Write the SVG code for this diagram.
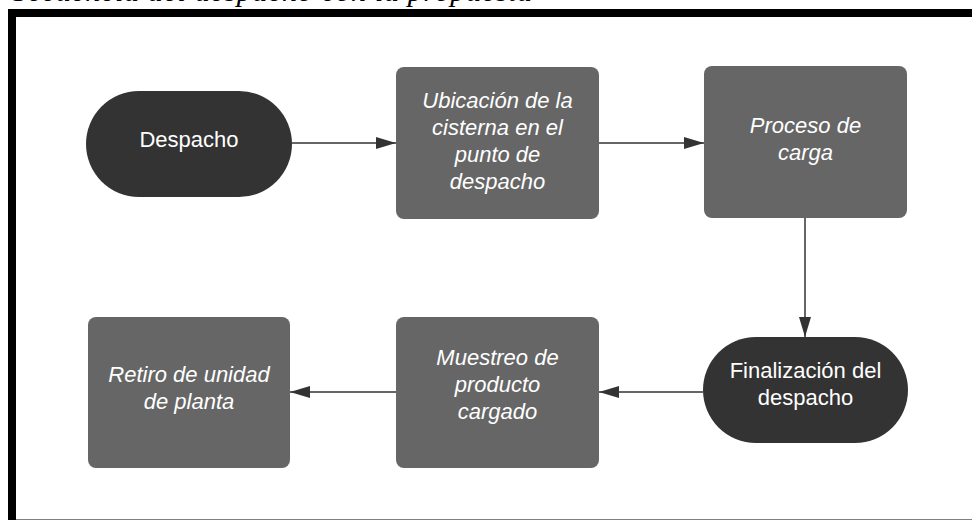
<svg xmlns="http://www.w3.org/2000/svg" width="972" height="520" viewBox="0 0 972 520">
  <style>
    .term { fill: #333333; }
    .proc { fill: #666666; }
    .lbl { font-family: "Liberation Sans", Arial, sans-serif; font-size: 22px; fill: #ffffff; text-anchor: middle; }
    .it { font-style: italic; }
    .conn { stroke: #333333; stroke-width: 1.5; fill: none; marker-end: url(#arrow); }
    .title { font-family: "Liberation Serif", "Times New Roman", serif; font-size: 30px; font-style: italic; fill: #000000; }
  </style>
  <defs>
    <marker id="arrow" viewBox="0 0 20 12" refX="20" refY="6" markerWidth="20" markerHeight="12" markerUnits="userSpaceOnUse" orient="auto">
      <path d="M0,0 L20,6 L0,12 Z" fill="#333333"/>
    </marker>
  </defs>
  <rect x="0" y="0" width="972" height="520" fill="#ffffff"/>
  <text class="title" x="12" y="1" textLength="520" lengthAdjust="spacing">Secuencia del despacho con la propuesta</text>
  <g id="frame">
    <rect x="8" y="9" width="964" height="8" fill="#000000"/>
    <rect x="8" y="9" width="8" height="511" fill="#000000"/>
    <line x1="16" y1="519.5" x2="972" y2="519.5" stroke="#808080" stroke-width="1"/>
  </g>
  <g id="connectors">
    <line class="conn" x1="292" y1="143" x2="396" y2="143"/>
    <line class="conn" x1="599" y1="143" x2="704" y2="143"/>
    <line class="conn" x1="805" y1="218" x2="805" y2="337"/>
    <line class="conn" x1="703" y1="392" x2="599" y2="392"/>
    <line class="conn" x1="396" y1="392" x2="290" y2="392"/>
  </g>
  <g id="n-despacho">
    <rect class="term" x="86" y="91" width="206" height="106" rx="53" ry="53"/>
    <text class="lbl" x="189" y="147">Despacho</text>
  </g>
  <g id="n-ubicacion">
    <rect class="proc" x="396" y="67" width="203" height="152" rx="8" ry="8"/>
    <text class="lbl it" x="497.5" y="108">Ubicación de la</text>
    <text class="lbl it" x="497.5" y="135">cisterna en el</text>
    <text class="lbl it" x="497.5" y="162">punto de</text>
    <text class="lbl it" x="497.5" y="189">despacho</text>
  </g>
  <g id="n-proceso">
    <rect class="proc" x="704" y="66" width="203" height="152" rx="8" ry="8"/>
    <text class="lbl it" x="805.5" y="133">Proceso de</text>
    <text class="lbl it" x="805.5" y="160">carga</text>
  </g>
  <g id="n-finalizacion">
    <rect class="term" x="703" y="337" width="205" height="106" rx="53" ry="53"/>
    <text class="lbl" x="805.5" y="378">Finalización del</text>
    <text class="lbl" x="805.5" y="405">despacho</text>
  </g>
  <g id="n-muestreo">
    <rect class="proc" x="396" y="317" width="203" height="151" rx="8" ry="8"/>
    <text class="lbl it" x="497.5" y="365">Muestreo de</text>
    <text class="lbl it" x="497.5" y="392">producto</text>
    <text class="lbl it" x="497.5" y="419">cargado</text>
  </g>
  <g id="n-retiro">
    <rect class="proc" x="88" y="317" width="202" height="151" rx="8" ry="8"/>
    <text class="lbl it" x="189" y="382">Retiro de unidad</text>
    <text class="lbl it" x="189" y="409">de planta</text>
  </g>
</svg>
